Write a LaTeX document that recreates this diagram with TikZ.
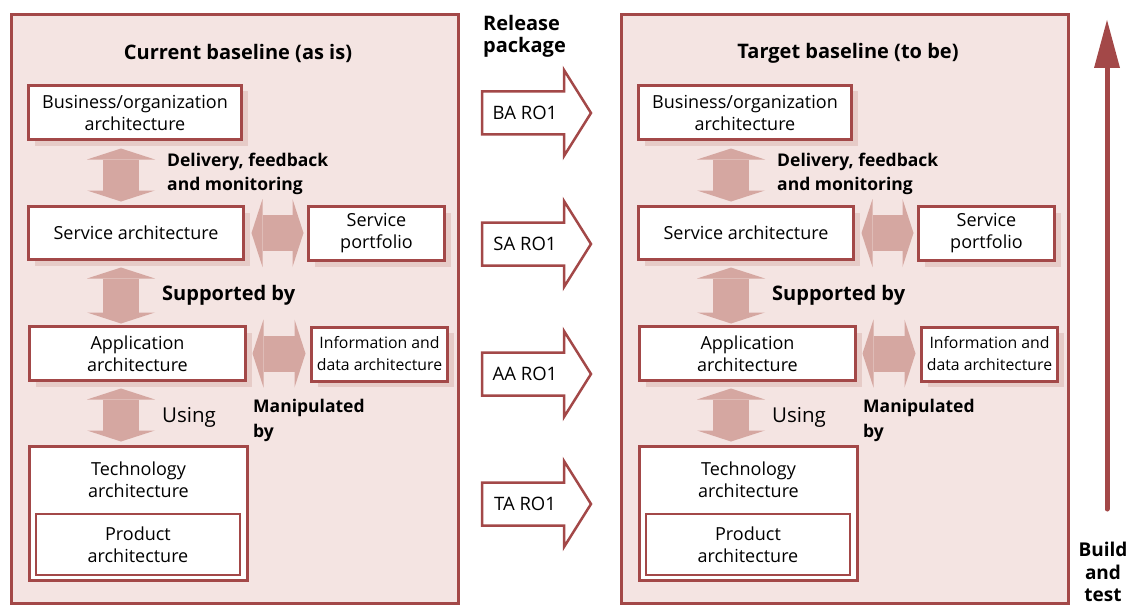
\documentclass[tikz,border=0pt]{standalone}
\usepackage{fontspec}
\setmainfont{Open Sans}
\usetikzlibrary{arrows.meta,shadows}

\definecolor{archred}{HTML}{A34848}
\definecolor{panelpink}{HTML}{F4E4E2}
\definecolor{shadowpink}{HTML}{E6CBC7}
\definecolor{linkpink}{HTML}{D5A7A1}

\tikzset{
	panelbox/.style={draw=archred, line width=3pt, fill=panelpink},
	archbox/.style={draw=archred, line width=3pt, fill=white, align=center, inner sep=0pt, font=\fontsize{18}{22}\selectfont},
	shadowed/.style={drop shadow={shadow xshift=6pt, shadow yshift=-6pt, fill=shadowpink, opacity=1}},
	linkarrow/.style={draw=linkpink, line width=36pt, {Triangle[length=11pt,width=68pt,line width=0pt]}-{Triangle[length=11pt,width=68pt,line width=0pt]}},
	linklabel/.style={font=\bfseries\fontsize{17.5}{24}\selectfont, align=left, inner sep=0pt},
	releasearrow/.style={draw=archred, line width=2.5pt, fill=white, line join=miter},
	buildarrow/.style={draw=archred, line width=5pt, line cap=round, -{Triangle[length=48pt,width=26pt,line width=0pt]}}
}

\begin{document}
\begin{tikzpicture}[x=1pt, y=-1pt]
	\useasboundingbox (0,0) rectangle (1129,607);
	% the two baselines
	\foreach \sx/\p/\ttl in {0/cur/Current baseline (as is), 610/tgt/Target baseline (to be)} {
		\draw[panelbox] (11.5+\sx,14.5) rectangle (458.5+\sx,603.5);
		\node[font=\bfseries\fontsize{20}{24}\selectfont] (\p-title) at (238+\sx,53) {\ttl};
		\coordinate (\p-ax) at (121+\sx,0);
		\node[archbox, shadowed, minimum width=213pt, minimum height=54pt] (\p-ba) at (135+\sx,112.5) {Business/organization\\architecture};
		\node[archbox, shadowed, minimum width=215pt, minimum height=53pt] (\p-sa) at (136+\sx,233) {Service architecture};
		\node[archbox, shadowed, minimum width=136pt, minimum height=54pt] (\p-sp) at (376.5+\sx,233.5) {Service\\portfolio};
		\node[archbox, shadowed, minimum width=216pt, minimum height=54pt] (\p-aa) at (137.5+\sx,353.5) {Application\\architecture};
		\node[archbox, shadowed, minimum width=136pt, minimum height=54pt, font=\fontsize{15.8}{22}\selectfont] (\p-id) at (379.5+\sx,354) {Information and\\data architecture};
		\node[archbox, minimum width=218pt, minimum height=134pt] (\p-ta) at (138.5+\sx,513.5) {};
		\node[align=center, inner sep=0pt, font=\fontsize{18}{22}\selectfont] (\p-tt) at (138.5+\sx,479.5) {Technology\\architecture};
		\node[archbox, line width=2pt, minimum width=204pt, minimum height=61pt] (\p-pa) at (138+\sx,544.5) {Product\\architecture};
		% relations
		\draw[linkarrow, shorten <=7.5pt, shorten >=3.5pt] (\p-ba.south -| \p-ax) -- (\p-sa.north -| \p-ax);
		\draw[linkarrow, shorten <=6.5pt, shorten >=3.5pt] (\p-sa.east) -- (\p-sa.east -| \p-sp.west);
		\draw[linkarrow, shorten <=6.5pt, shorten >=1.5pt] (\p-sa.south -| \p-ax) -- (\p-aa.north -| \p-ax);
		\draw[linkarrow, shorten <=5.5pt, shorten >=4.5pt] (\p-aa.east) -- (\p-aa.east -| \p-id.west);
		\draw[linkarrow, shorten <=6.5pt, shorten >=3.5pt] (\p-aa.south -| \p-ax) -- (\p-ta.north -| \p-ax);
		\node[linklabel, anchor=west] (\p-dl) at (167+\sx,174) {Delivery, feedback\\and monitoring};
		\node[linklabel, anchor=west, font=\bfseries\fontsize{20}{24}\selectfont] (\p-sl) at (162+\sx,295) {Supported by};
		\node[anchor=west, inner sep=0pt, font=\fontsize{20.5}{24}\selectfont] (\p-ul) at (162+\sx,417) {Using};
		\node[linklabel, anchor=west, font=\bfseries\fontsize{17.5}{25}\selectfont] (\p-ml) at (253+\sx,420.5) {Manipulated\\by};
	}
	% release packages
	\node[linklabel, anchor=west, font=\bfseries\fontsize{20}{22}\selectfont] (rel-title) at (483,36) {Release\\package};
	\foreach \y/\t/\n in {113/BA RO1/ba, 244/SA RO1/sa, 374/AA RO1/aa, 504/TA RO1/ta} {
		\draw[releasearrow] (482,\y-21.5) -- (564,\y-21.5) -- (564,\y-43) -- (591,\y) -- (564,\y+43) -- (564,\y+21.5) -- (482,\y+21.5) -- cycle;
		\node[font=\fontsize{18.5}{22}\selectfont] (rel-\n) at (525,\y) {\t};
	}
	% build and test
	\coordinate (bt-tail) at (1107,509);
	\coordinate (bt-tip) at (1107,20);
	\draw[buildarrow] (bt-tail) -- (bt-tip);
	\node[linklabel, align=center, font=\bfseries\fontsize{19}{22.5}\selectfont] (bt-label) at (1103,572) {Build\\and\\test};
\end{tikzpicture}
\end{document}
